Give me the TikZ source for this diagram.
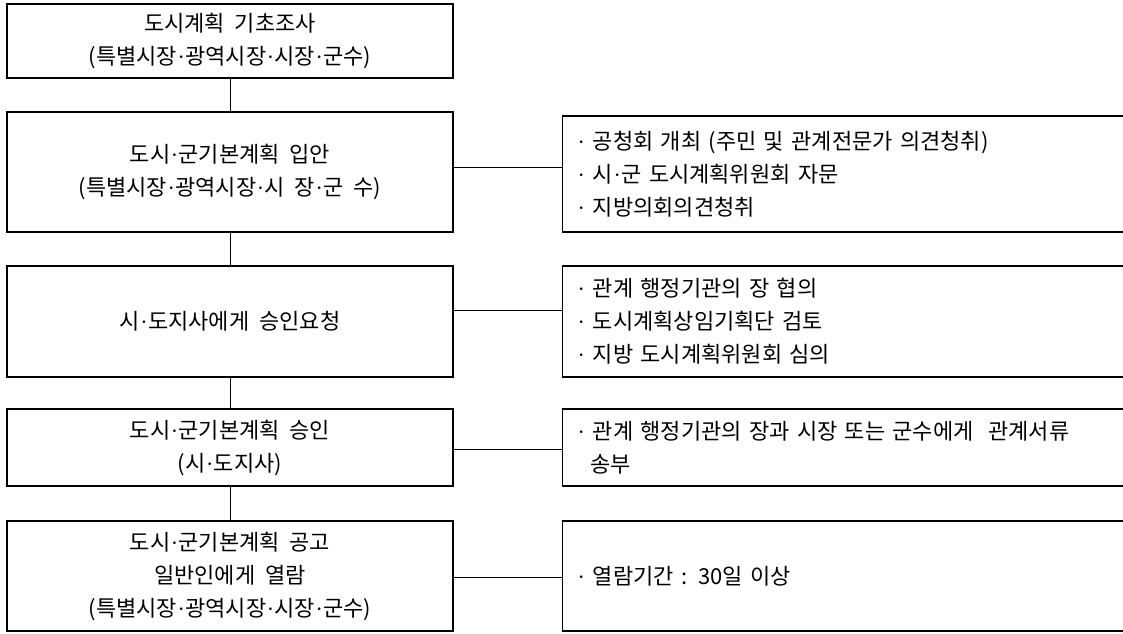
\documentclass[tikz,border=0pt]{standalone}
\usepackage{fontspec}
\setmainfont[WordSpace=2]{Noto Sans CJK KR}
\newfontfamily\latinf{Liberation Serif}
\newcommand\dt{{\latinf\kern0.5pt·\kern0.5pt}}
\newcommand\bl{{\latinf ·}\hspace{8pt}}
\begin{document}
\begin{tikzpicture}[x=1pt,y=-1pt,
  lbox/.style={draw, line width=2.2pt, minimum width=446pt, inner sep=0pt, align=center,
    font=\fontsize{22}{33}\selectfont},
  rbox/.style={draw, line width=1.1pt, anchor=west, text width=560pt, inner xsep=15pt,
    inner ysep=0pt, align=left, font=\fontsize{22}{33}\selectfont},
  link/.style={draw, line width=1pt}
]
\useasboundingbox (0,0) rectangle (1123,633);
\node[lbox, minimum height=74pt] (b1) at (230,41) {도시계획 기초조사\\(특별시장\dt 광역시장\dt 시장\dt 군수)};
\node[lbox, minimum height=120pt] (b2) at (230,172) {도시\dt 군기본계획 입안\\(특별시장\dt 광역시장\dt 시 장\dt 군 수)};
\node[lbox, minimum height=111pt] (b3) at (230,321.5) {시\dt 도지사에게 승인요청};
\node[lbox, minimum height=77pt] (b4) at (230,447.5) {도시\dt 군기본계획 승인\\(시\dt 도지사)};
\node[lbox, minimum height=110pt] (b5) at (230,576) {도시\dt 군기본계획 공고\\일반인에게 열람\\(특별시장\dt 광역시장\dt 시장\dt 군수)};

\node[rbox, minimum height=116pt] (r1) at (562,174) {\bl 공청회 개최 (주민 및 관계전문가 의견청취)\\\bl 시\dt 군 도시계획위원회 자문\\\bl 지방의회의견청취};
\node[rbox, minimum height=111pt] (r2) at (562,321.5) {\bl 관계 행정기관의 장 협의\\\bl 도시계획상임기획단 검토\\\bl 지방 도시계획위원회 심의};
\node[rbox, minimum height=77pt] (r3) at (562,447.5) {\bl 관계 행정기관의 장과 시장 또는 군수에게\ \ 관계서류\\\hspace*{13pt}송부};
\node[rbox, minimum height=110pt] (r4) at (562,576) {\bl 열람기간 : 30일 이상};

\draw[link] (b1.south) -- (b2.north);
\draw[link] (b2.south) -- (b3.north);
\draw[link] (b3.south) -- (b4.north);
\draw[link] (b4.south) -- (b5.north);

\draw[link] ([yshift=5pt]b2.east) -- ([yshift=5pt]b2.east -| r1.west);
\draw[link] ([yshift=11pt]b3.east) -- ([yshift=11pt]b3.east -| r2.west);
\draw[link] ([yshift=-2pt]b4.east) -- ([yshift=-2pt]b4.east -| r3.west);
\draw[link] ([yshift=-1pt]b5.east) -- ([yshift=-1pt]b5.east -| r4.west);
\end{tikzpicture}
\end{document}
